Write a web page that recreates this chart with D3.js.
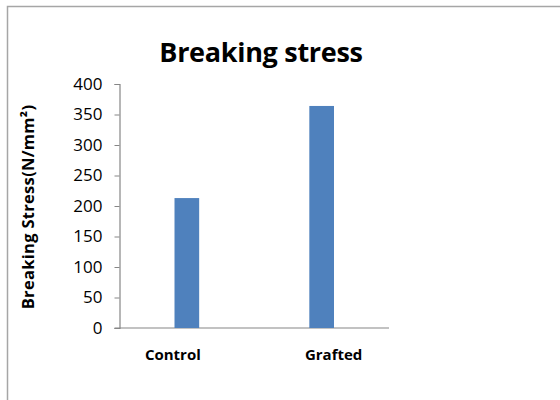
<!DOCTYPE html>
<html>
<head>
<meta charset="utf-8">
<script src="https://cdn.jsdelivr.net/npm/d3@7"></script>
<style>
  body { margin: 0; background: #fff; }
  text { font-family: "Open Sans", sans-serif; }
</style>
</head>
<body>
<div id="chart"></div>
<script>
// Data
const categories = ['Control', 'Grafted'];
const values = [213, 364];
const yTicks = [0, 50, 100, 150, 200, 250, 300, 350, 400];

// Dimensions
const WIDTH = 560;
const HEIGHT = 400;
const MARGIN = { top: 84, right: 171, bottom: 72, left: 119.5 };

const svg = d3.select('#chart')
  .append('svg')
  .attr('width', WIDTH)
  .attr('height', HEIGHT);

// Chart frame (only top and left edges show in the picture)
svg.append('path')
  .attr('d', `M7.5,${HEIGHT} V6.5 H${WIDTH}`)
  .attr('fill', 'none')
  .attr('stroke', '#a6a6a6')
  .attr('stroke-width', 1.5);

// Scales
const x = d3.scaleBand()
  .domain(categories)
  .range([MARGIN.left, WIDTH - MARGIN.right])
  .paddingInner(0.817)
  .paddingOuter(0.408);

const y = d3.scaleLinear()
  .domain([0, 400])
  .range([HEIGHT - MARGIN.bottom, MARGIN.top]);

// Title
svg.append('text')
  .attr('x', 261)
  .attr('y', 62)
  .attr('text-anchor', 'middle')
  .style('font-size', '27px')
  .style('font-weight', 'bold')
  .style('letter-spacing', '-0.3px')
  .text('Breaking stress');

// Y axis
const yAxis = svg.append('g')
  .attr('transform', `translate(${MARGIN.left},0)`)
  .call(d3.axisLeft(y).tickValues(yTicks).tickSize(5).tickPadding(12));

yAxis.select('.domain').attr('stroke', '#868686').attr('stroke-width', 1.2);
yAxis.selectAll('.tick line').attr('stroke', '#868686');
yAxis.selectAll('.tick text')
  .attr('fill', '#000')
  .style('font-size', '17px')
  .style('font-family', '"Open Sans", sans-serif');

// X axis line
svg.append('line')
  .attr('x1', MARGIN.left - 5)
  .attr('x2', WIDTH - MARGIN.right)
  .attr('y1', y(0))
  .attr('y2', y(0))
  .attr('stroke', '#868686')
  .attr('stroke-width', 1.2);

// Bars
svg.append('g')
  .selectAll('rect')
  .data(values)
  .enter()
  .append('rect')
  .attr('x', (d, i) => x(categories[i]))
  .attr('y', d => y(d))
  .attr('width', x.bandwidth())
  .attr('height', d => y(0) - y(d))
  .attr('fill', '#4f81bd');

// Category labels (sit a little off the bar centres in the picture)
const labelShift = [-14, 12];
svg.append('g')
  .selectAll('text')
  .data(categories)
  .enter()
  .append('text')
  .attr('x', (d, i) => x(d) + x.bandwidth() / 2 + labelShift[i])
  .attr('y', 360)
  .attr('text-anchor', 'middle')
  .style('font-size', '15px')
  .style('font-weight', 'bold')
  .text(d => d);

// Y axis title
svg.append('text')
  .attr('transform', 'translate(34,207) rotate(-90)')
  .attr('text-anchor', 'middle')
  .style('font-size', '16.5px')
  .style('font-weight', 'bold')
  .style('letter-spacing', '0.3px')
  .text('Breaking Stress(N/mm²)');
</script>
</body>
</html>
